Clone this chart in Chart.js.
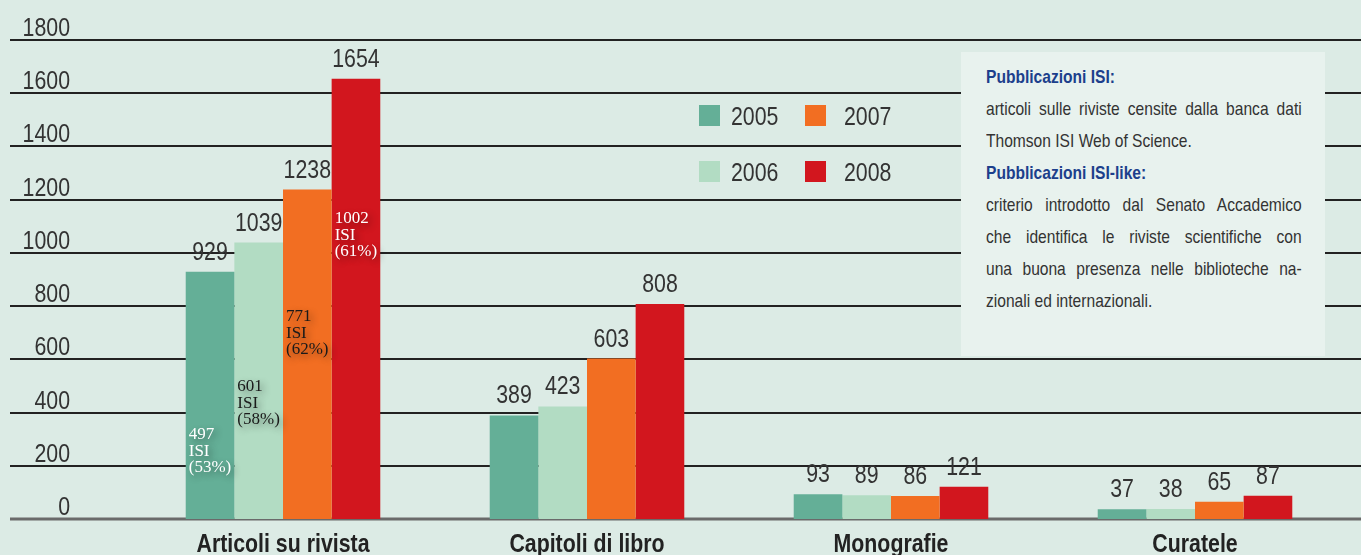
<!DOCTYPE html>
<html><head><meta charset="utf-8">
<script src="https://cdn.jsdelivr.net/npm/chart.js@4"></script>
<style>
html,body{margin:0;padding:0;background:#dcebe5;width:1361px;height:555px;overflow:hidden;}
#wrap{position:relative;width:1361px;height:555px;}
#c{position:absolute;left:0;top:0;}
#note{position:absolute;left:961px;top:52px;width:364px;height:304px;background:#e8f2ee;box-sizing:border-box;overflow:hidden;}
#inner{position:absolute;left:25px;top:9px;width:385px;transform:scaleX(0.82);transform-origin:0 0;
 font-family:'Liberation Sans',Arial,sans-serif;font-size:19px;line-height:32px;color:#333;}
#inner .t{font-weight:bold;color:#1c3f8c;}
#inner div{white-space:nowrap;}
#inner .j{white-space:normal;text-align:justify;text-align-last:justify;}
</style></head>
<body><div id="wrap"><canvas id="c" width="1361" height="555"></canvas>
<div id="note"><div id="inner">
<div class="t">Pubblicazioni ISI:</div>
<div class="j">articoli sulle riviste censite dalla banca dati</div>
<div>Thomson ISI Web of Science.</div>
<div class="t">Pubblicazioni ISI-like:</div>
<div class="j">criterio introdotto dal Senato Accademico</div>
<div class="j">che identifica le riviste scientifiche con</div>
<div class="j">una buona presenza nelle biblioteche na-</div>
<div>zionali ed internazionali.</div>
</div></div></div>
<script>
const categories = ['Articoli su rivista', 'Capitoli di libro', 'Monografie', 'Curatele'];
const years = ['2005', '2006', '2007', '2008'];
const v2005 = [929, 389, 93, 37];
const v2006 = [1039, 423, 89, 38];
const v2007 = [1238, 603, 86, 65];
const v2008 = [1654, 808, 121, 87];
const isiCounts = [497, 601, 771, 1002];
const isiPercent = [53, 58, 62, 61];
const yTicks = [0, 200, 400, 600, 800, 1000, 1200, 1400, 1600, 1800];

const colors = ['#64af97', '#b2dcc3', '#f26e22', '#d2161e'];
const SANS = "'Liberation Sans',Arial,sans-serif";
const SERIF = "'Liberation Serif','DejaVu Serif',serif";
const NARROW_SCALE = 0.82;

function narrowText(ctx, text, x, y, align) {
  ctx.save();
  ctx.translate(x, y);
  ctx.scale(NARROW_SCALE, 1);
  ctx.textAlign = align;
  ctx.fillText(text, 0, 0);
  ctx.restore();
}

const decor = {
  id: 'decor',
  beforeDatasetsDraw(chart) {
    const ctx = chart.ctx, y = chart.scales.y;
    ctx.save();
    yTicks.forEach(v => {
      const py = Math.round(y.getPixelForValue(v));
      ctx.beginPath();
      if (v === 0) { ctx.strokeStyle = '#6a6a6a'; ctx.lineWidth = 3; }
      else { ctx.strokeStyle = '#222'; ctx.lineWidth = 2; }
      ctx.moveTo(10, py); ctx.lineTo(1361, py); ctx.stroke();
      ctx.fillStyle = '#333';
      ctx.font = '26px ' + SANS;
      ctx.textBaseline = 'alphabetic';
      narrowText(ctx, String(v), 70, py - 4, 'right');
    });
    ctx.restore();
  },
  afterDatasetsDraw(chart) {
    const ctx = chart.ctx, x = chart.scales.x;
    ctx.save();
    // value labels
    ctx.font = '26px ' + SANS;
    ctx.fillStyle = '#333';
    ctx.textBaseline = 'alphabetic';
    chart.data.datasets.forEach((ds, di) => {
      chart.getDatasetMeta(di).data.forEach((bar, i) => {
        narrowText(ctx, String(ds.data[i]), bar.x, bar.y - 12, 'center');
      });
    });
    // ISI annotations in first category
    const anchors = [317, 497, 759, 1128];
    const tcol = ['#ffffff', '#1a1a1a', '#1a1a1a', '#ffffff'];
    ctx.font = '17px ' + SERIF;
    ctx.textAlign = 'left'; ctx.textBaseline = 'middle';
    ctx.shadowColor = 'rgba(0,0,0,0.45)'; ctx.shadowBlur = 7; ctx.shadowOffsetX = 3; ctx.shadowOffsetY = 3;
    isiCounts.forEach((n, di) => {
      const bar = chart.getDatasetMeta(di).data[0];
      const left = bar.x - bar.width / 2 + 3;
      const py = chart.scales.y.getPixelForValue(anchors[di]);
      ctx.fillStyle = tcol[di];
      [String(n), 'ISI', '(' + isiPercent[di] + '%)'].forEach((s, k) => ctx.fillText(s, left, py + k * 16.5));
    });
    ctx.shadowColor = 'transparent'; ctx.shadowBlur = 0; ctx.shadowOffsetX = 0; ctx.shadowOffsetY = 0;
    // category labels
    ctx.font = 'bold 26px ' + SANS;
    ctx.fillStyle = '#222';
    ctx.textBaseline = 'alphabetic';
    categories.forEach((c, i) => narrowText(ctx, c, x.getPixelForValue(i), 552, 'center'));
    // legend 2x2
    const colX = [699, 805], txtX = [731, 844], rowY = [105, 161];
    ctx.font = '26px ' + SANS;
    chart.data.datasets.forEach((ds, di) => {
      const col = Math.floor(di / 2), row = di % 2;
      ctx.fillStyle = ds.backgroundColor;
      ctx.fillRect(colX[col], rowY[row], 21, 21);
      ctx.fillStyle = '#333';
      narrowText(ctx, ds.label, txtX[col], rowY[row] + 20, 'left');
    });
    ctx.restore();
  }
};

new Chart(document.getElementById('c'), {
  type: 'bar',
  data: {
    labels: categories,
    datasets: [
      { label: years[0], data: v2005, backgroundColor: colors[0] },
      { label: years[1], data: v2006, backgroundColor: colors[1] },
      { label: years[2], data: v2007, backgroundColor: colors[2] },
      { label: years[3], data: v2008, backgroundColor: colors[3] }
    ]
  },
  options: {
    responsive: false, animation: false, devicePixelRatio: 1,
    layout: { padding: { left: 131, right: 14, top: 40, bottom: 36 } },
    datasets: { bar: { categoryPercentage: 0.64, barPercentage: 1.0, borderWidth: 0 } },
    plugins: { legend: { display: false }, tooltip: { enabled: false } },
    scales: {
      x: { display: false },
      y: { display: false, min: 0, max: 1800 }
    }
  },
  plugins: [decor]
});
</script></body></html>
